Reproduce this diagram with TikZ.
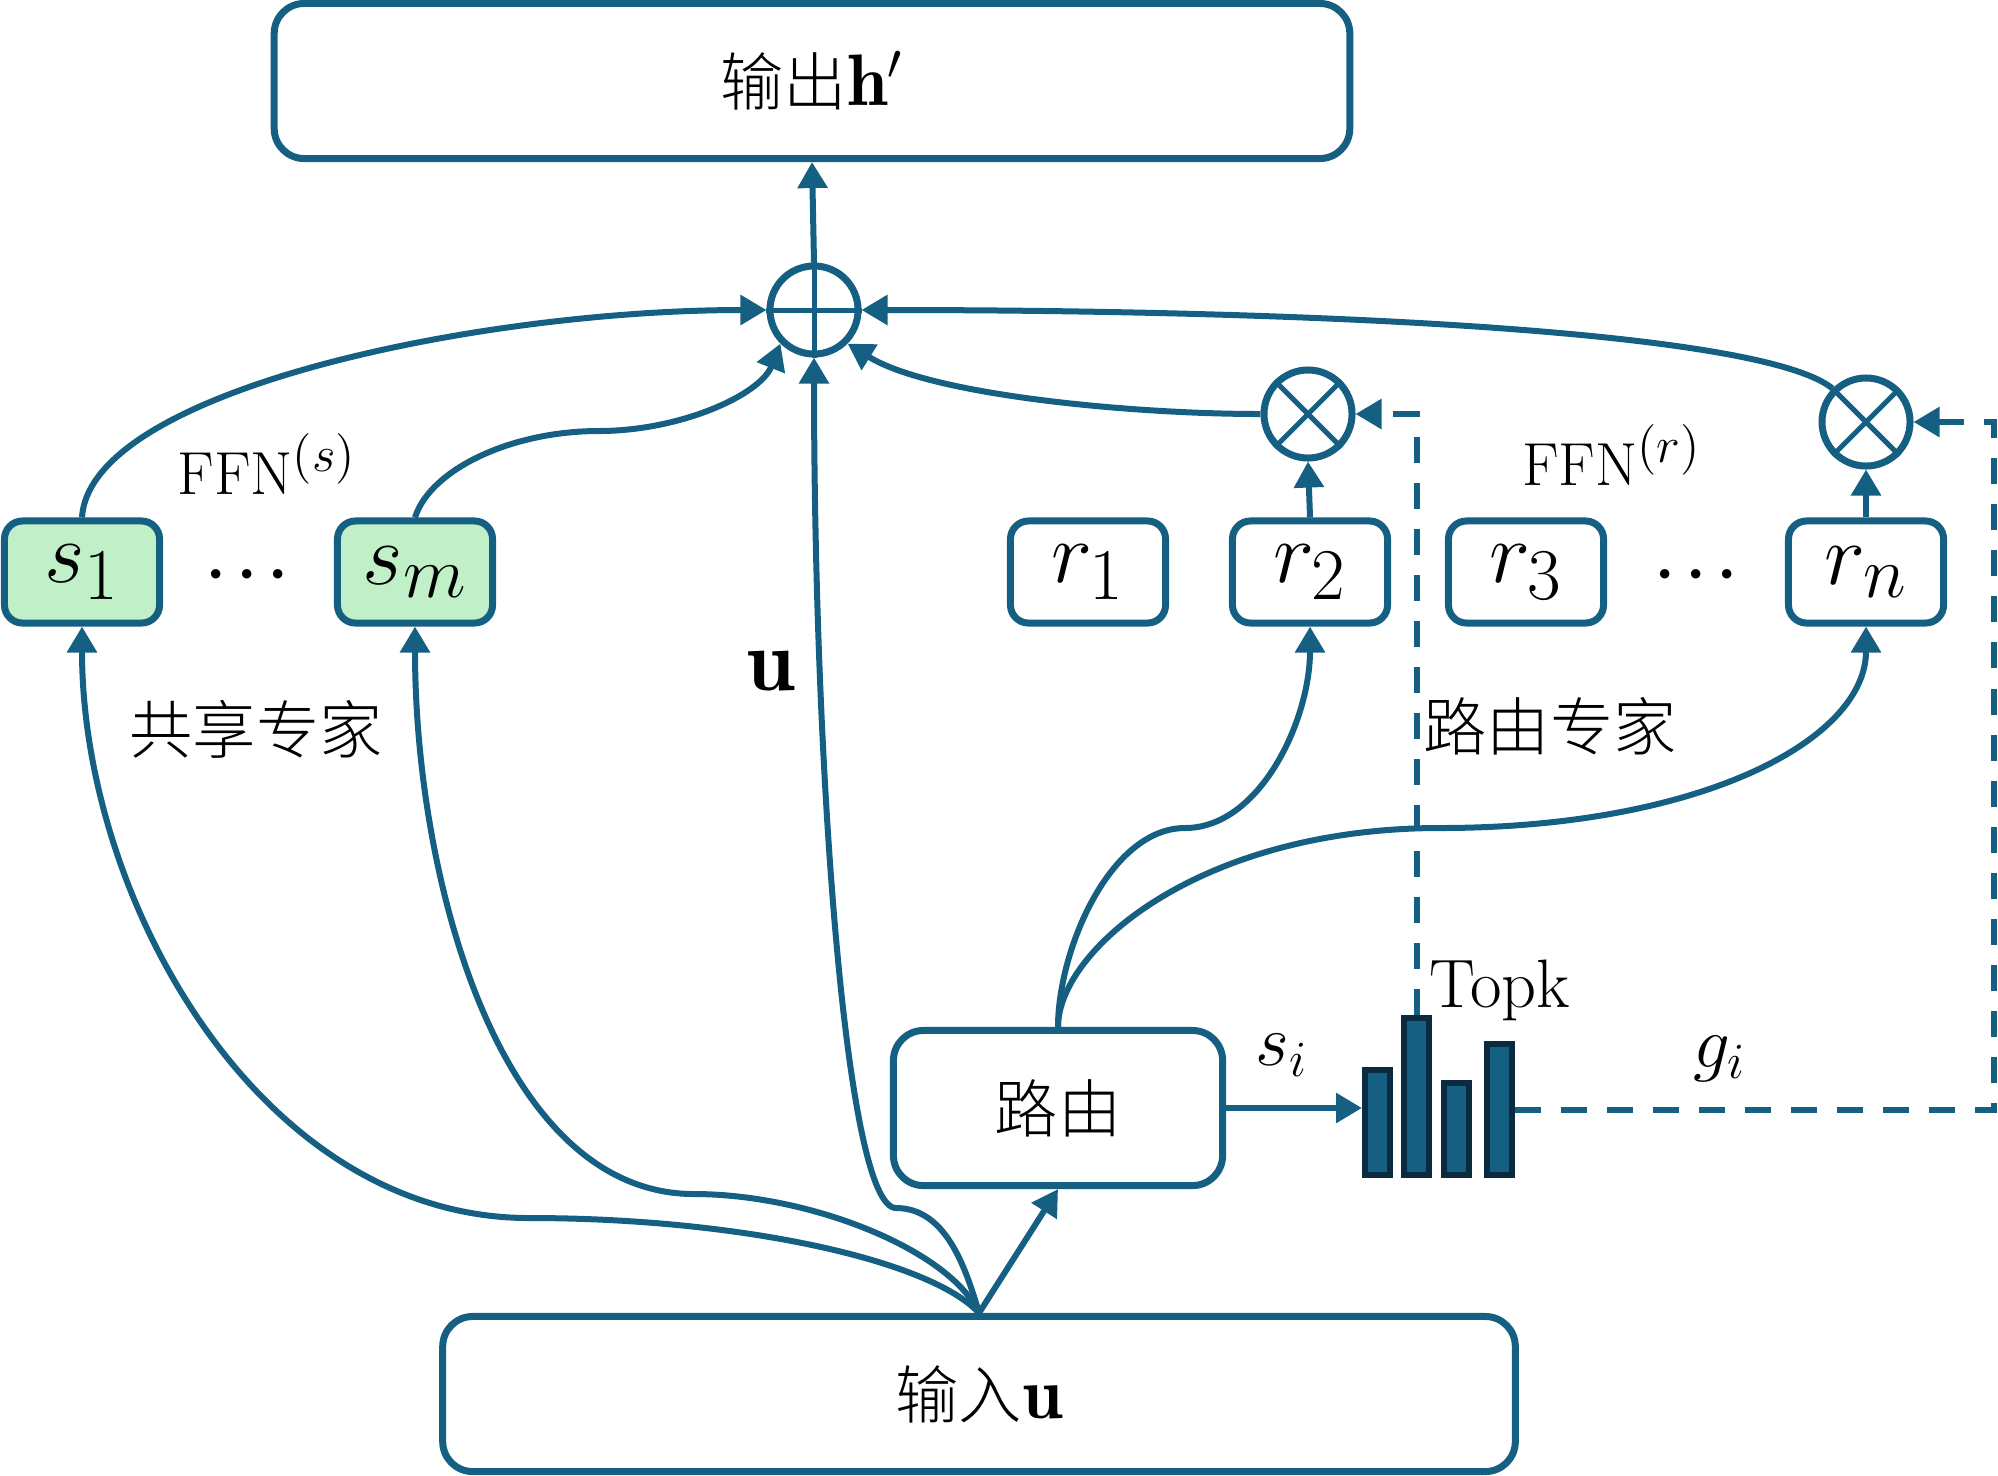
\documentclass[tikz,border=0pt]{standalone}
\usepackage{amsmath,amssymb}
\usepackage{fontspec}
\usepackage{xcolor}
\usepackage{tikz}
\usetikzlibrary{arrows.meta}
\newfontfamily\cjk{Noto Sans CJK SC}[UprightFont=* Light]
\definecolor{route_blue}{HTML}{156082}
\definecolor{route_dark}{HTML}{0A2A3F}
\definecolor{share_green}{HTML}{C1F0C8}
\DeclareMathSizes{17.28}{17.28}{14.4}{10}
\newcommand{\bigtxt}{\fontsize{17.28}{21}\selectfont}
\newcommand{\boxtxt}{\fontsize{24.88}{30}\selectfont}
\newcommand{\midtxt}{\fontsize{20.74}{25}\selectfont}
\newcommand{\cjktxt}{\fontsize{18}{22}\selectfont\cjk}
\newcommand{\explabel}[1]{\raisebox{-0.08cm}{$#1$}}
\tikzset{
  bigbox/.style={draw=route_blue, line width=0.07cm, rounded corners=0.3cm, fill=white,
    font=\bigtxt, inner sep=0pt},
  expert/.style={draw=route_blue, line width=0.07cm, rounded corners=0.18cm, fill=white,
    minimum width=1.55cm, minimum height=1.02cm, font=\boxtxt, inner sep=0pt},
  shared/.style={expert, fill=share_green},
  opcircle/.style={circle, draw=route_blue, line width=0.07cm, minimum size=0.88cm, inner sep=0pt},
  scorebar/.style={rectangle, draw=route_dark, fill=route_blue, line width=0.06cm,
    minimum width=0.25cm, inner sep=0pt},
  flowline/.style={line width=0.06cm, route_blue, -{Triangle[length=0.26cm,width=0.29cm]}},
  gateline/.style={flowline, dash pattern=on 0.26cm off 0.2cm},
  opmark/.style={line width=0.05cm, route_blue},
  plain/.style={font=\bigtxt, inner sep=0pt}
}
\begin{document}
\begin{tikzpicture}[x=0.01cm, y=-0.01cm]
  \useasboundingbox (0,0) rectangle (1998,1475);
  % Big boxes
  \node[bigbox, minimum width=10.75cm, minimum height=1.55cm] (out) at (812,81) {{\cjktxt 输出}{\midtxt$\mathbf{h}'$}};
  \node[bigbox, minimum width=10.72cm, minimum height=1.55cm] (in) at (979,1394) {{\cjktxt 输入}{\midtxt$\mathbf{u}$}};
  \node[bigbox, minimum width=3.29cm, minimum height=1.55cm] (router) at (1058,1108) {\cjktxt 路由};
  % Experts
  \node[shared] (s1) at (82,572) {\explabel{s_1}};
  \node[shared] (sm) at (415,572) {\explabel{s_m}};
  \node[expert] (r1) at (1088,572) {\explabel{r_1}};
  \node[expert] (r2) at (1310,572) {\explabel{r_2}};
  \node[expert] (r3) at (1526,572) {\explabel{r_3}};
  \node[expert] (rn) at (1866,572) {\explabel{r_n}};
  % Combining circles
  \node[opcircle] (add) at (814,310) {};
  \node[opcircle] (mul1) at (1308,414) {};
  \node[opcircle] (mul2) at (1866,422) {};
  \draw[opmark] (add.north) -- (add.south) (add.west) -- (add.east);
  \draw[opmark] (mul1.north west) -- (mul1.south east) (mul1.north east) -- (mul1.south west);
  \draw[opmark] (mul2.north west) -- (mul2.south east) (mul2.north east) -- (mul2.south west);
  % Score bars
  \node[scorebar, minimum height=1.05cm] (bar1) at (1377.5,1122.5) {};
  \node[scorebar, minimum height=1.57cm] (bar2) at (1416.5,1096.5) {};
  \node[scorebar, minimum height=0.92cm] (bar3) at (1456.5,1129) {};
  \node[scorebar, minimum height=1.31cm] (bar4) at (1499,1109.5) {};
  % Labels
  \node[plain] (ffns) at (267,464) {$\mathrm{FFN}^{(s)}$};
  \node[plain] (ffnr) at (1612,455) {$\mathrm{FFN}^{(r)}$};
  \node[inner sep=0pt] (routelabel) at (1550,726) {\cjktxt 路由专家};
  \node[inner sep=0pt] (sharelabel) at (256,729) {\cjktxt 共享专家};
  \node[font=\boxtxt, inner sep=0pt] (ulabel) at (771,671) {$\mathbf{u}$};
  \node[font=\fontsize{19.5}{24}\selectfont, inner sep=0pt] (topk) at (1500,990) {Topk};
  \node[font=\midtxt, inner sep=0pt] (si) at (1282,1055) {$s_i$};
  \node[font=\midtxt, inner sep=0pt] (gi) at (1720,1059) {$g_i$};
  \node[plain] (dotss) at (253,575) {$\boldsymbol{\cdots}$};
  \node[plain] (dotsr) at (1702,575) {$\boldsymbol{\cdots}$};
  % Curve waypoints
  \coordinate (mids1) at (529,1218);
  \coordinate (midsm) at (694,1194);
  \coordinate (midu) at (896,1208);
  \coordinate (midr2) at (1185,828);
  \coordinate (midrn) at (1440,828);
  \coordinate (midadd) at (599,431);
  \coordinate (rdash) at (1994,766);
  % Input to experts
  \draw[flowline] (in.north) .. controls (930,1260) and (740,1218) .. (mids1)
    .. controls (260,1218) and (82,900) .. (s1.south);
  \draw[flowline] (in.north) .. controls (950,1250) and (810,1194) .. (midsm)
    .. controls (500,1194) and (415,880) .. (sm.south);
  \draw[flowline] (in.north) .. controls (965,1265) and (945,1208) .. (midu)
    .. controls (845,1208) and (814,760) .. (add.south);
  \draw[flowline] (in.north) -- (router.south);
  % Router to experts
  \draw[flowline] (router.north) .. controls (1058,950) and (1110,828) .. (midr2)
    .. controls (1260,828) and (1310,720) .. (r2.south);
  \draw[flowline] (router.north) .. controls (1058,950) and (1200,828) .. (midrn)
    .. controls (1700,828) and (1866,740) .. (rn.south);
  \draw[flowline] (router.east) -- (router.east -| bar1.west);
  % Experts to sum
  \draw[flowline] (s1.north) .. controls (90,390) and (480,310) .. (add.west);
  \draw[flowline] (sm.north) .. controls (430,470) and (510,431) .. (midadd)
    .. controls (680,431) and (760,395) .. (add.south west);
  \draw[flowline] (mul1.west) .. controls (1130,414) and (930,395) .. (add.south east);
  \draw[flowline] (mul2.north west) .. controls (1760,330) and (1300,310) .. (add.east);
  \draw[flowline] (r2.north) -- (mul1.south);
  \draw[flowline] (rn.north) -- (mul2.south);
  \draw[flowline] (add.north) -- (out.south);
  % Gates
  \draw[gateline] (bar2.north) |- (mul1.east);
  \draw[gateline] (bar4.east) -| (rdash) |- (mul2.east);
\end{tikzpicture}
\end{document}
